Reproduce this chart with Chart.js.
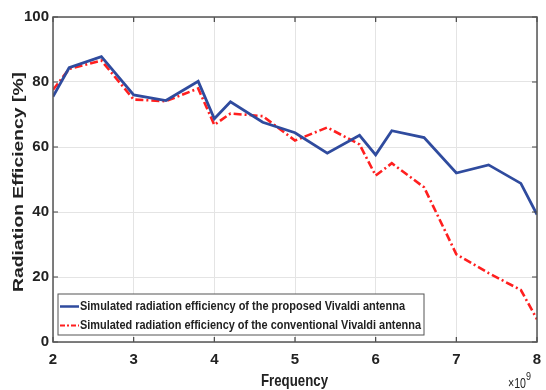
<!DOCTYPE html>
<html>
<head>
<meta charset="utf-8">
<script src="https://cdn.jsdelivr.net/npm/chart.js@4.4.0/dist/chart.umd.min.js"></script>
<style>
  html, body { margin: 0; padding: 0; background: #fff; }
</style>
</head>
<body>
<canvas id="chart" width="546" height="390"></canvas>
<script>
// frequency in units of 1e9 Hz
const freq = [2.0, 2.2, 2.6, 3.0, 3.4, 3.8, 4.0, 4.2, 4.6, 5.0, 5.4, 5.8, 6.0, 6.2, 6.6, 7.0, 7.4, 7.8, 8.0];
const proposed = [75.5, 84.4, 87.8, 76.0, 74.3, 80.2, 68.7, 73.9, 67.6, 64.4, 58.1, 63.6, 57.6, 65.0, 62.9, 52.0, 54.5, 48.8, 39.2];
const conventional = [77.6, 84.0, 86.6, 74.6, 74.1, 78.0, 66.8, 70.3, 69.5, 62.0, 66.0, 60.8, 51.2, 55.0, 47.6, 27.0, 21.2, 16.0, 7.0];
const legendLabels = [
  "Simulated radiation efficiency of the proposed Vivaldi antenna",
  "Simulated radiation efficiency of the conventional Vivaldi antenna"
];
const xTicks = [2, 3, 4, 5, 6, 7, 8];
const yTicks = [0, 20, 40, 60, 80, 100];

const blue = "#2f4b9e";
const red = "#ff1f1f";
const redDash = [8, 3, 2, 3];

function toPoints(ys) {
  return freq.map((f, i) => ({ x: f, y: ys[i] }));
}

// draw text squeezed/stretched to a given width
function fitText(ctx, text, x, y, width) {
  const w = ctx.measureText(text).width;
  ctx.save();
  ctx.translate(x, y);
  ctx.scale(width / w, 1);
  ctx.fillText(text, 0, 0);
  ctx.restore();
}

// box, inner tick marks, titles and the in-plot legend
const decorations = {
  id: "decorations",
  afterDraw(chart) {
    const { ctx, chartArea: a, scales } = chart;
    ctx.save();

    // inward tick marks on all sides
    ctx.strokeStyle = "#444";
    ctx.lineWidth = 1.2;
    xTicks.forEach(v => {
      const px = scales.x.getPixelForValue(v);
      ctx.beginPath();
      ctx.moveTo(px, a.top); ctx.lineTo(px, a.top + 5);
      ctx.moveTo(px, a.bottom); ctx.lineTo(px, a.bottom - 5);
      ctx.stroke();
    });
    yTicks.forEach(v => {
      const py = scales.y.getPixelForValue(v);
      ctx.beginPath();
      ctx.moveTo(a.left, py); ctx.lineTo(a.left + 5, py);
      ctx.moveTo(a.right, py); ctx.lineTo(a.right - 5, py);
      ctx.stroke();
    });

    // box
    ctx.strokeStyle = "#555";
    ctx.lineWidth = 1.5;
    ctx.strokeRect(a.left, a.top, a.right - a.left, a.bottom - a.top);

    // axis titles
    ctx.fillStyle = "#222";
    ctx.font = "bold 17px 'Liberation Sans', Arial, sans-serif";
    ctx.textAlign = "left";
    ctx.textBaseline = "middle";
    fitText(ctx, "Frequency", 261, 381, 67);
    ctx.font = "bold 15px 'Liberation Sans', Arial, sans-serif";
    ctx.save();
    ctx.translate(19, 292);
    ctx.rotate(-Math.PI / 2);
    fitText(ctx, "Radiation Efficiency [%]", 0, 0, 220);
    ctx.restore();

    // x10^9 exponent
    ctx.font = "15px 'Liberation Sans', Arial, sans-serif";
    fitText(ctx, "\u00d710", 508, 384, 18);
    ctx.font = "11px 'Liberation Sans', Arial, sans-serif";
    fitText(ctx, "9", 526, 377, 5);

    // legend
    const lx = 58, ly = 294, lw = 366, lh = 41;
    ctx.fillStyle = "#fff";
    ctx.fillRect(lx, ly, lw, lh);
    ctx.strokeStyle = "#555";
    ctx.lineWidth = 1;
    ctx.strokeRect(lx, ly, lw, lh);
    const rows = [
      { y: 306.5, color: blue, dash: [], width: 2.5 },
      { y: 325.5, color: red, dash: [5, 2, 2, 2], width: 2.2 }
    ];
    rows.forEach((r, i) => {
      ctx.strokeStyle = r.color;
      ctx.lineWidth = r.width;
      ctx.setLineDash(r.dash);
      ctx.beginPath();
      ctx.moveTo(60, r.y); ctx.lineTo(79, r.y);
      ctx.stroke();
      ctx.setLineDash([]);
      ctx.fillStyle = "#222";
      ctx.font = "bold 13px 'Liberation Sans Narrow', 'Arial Narrow', sans-serif";
      fitText(ctx, legendLabels[i], 80, r.y, i === 0 ? 325 : 341);
    });

    ctx.restore();
  }
};

const ctx = document.getElementById("chart").getContext("2d");
new Chart(ctx, {
  type: "line",
  data: {
    datasets: [
      {
        label: legendLabels[0],
        data: toPoints(proposed),
        borderColor: blue,
        borderWidth: 2.8,
        pointRadius: 0,
        tension: 0,
        fill: false
      },
      {
        label: legendLabels[1],
        data: toPoints(conventional),
        borderColor: red,
        borderWidth: 2.6,
        borderDash: redDash,
        pointRadius: 0,
        tension: 0,
        fill: false
      }
    ]
  },
  options: {
    responsive: false,
    animation: false,
    layout: { padding: { top: 17, right: 9, left: 0, bottom: 0 } },
    plugins: {
      legend: { display: false },
      tooltip: { enabled: false }
    },
    scales: {
      x: {
        type: "linear",
        min: 2,
        max: 8,
        afterBuildTicks: s => { s.ticks = xTicks.map(v => ({ value: v })); },
        afterFit: s => { s.height = 48; s.paddingLeft = 0; s.paddingRight = 0; },
        grid: { color: "#e4e4e4", drawTicks: false },
        border: { display: false },
        ticks: {
          padding: 9,
          color: "#222",
          font: { family: "'Liberation Sans', Arial, sans-serif", size: 15, weight: "bold" }
        }
      },
      y: {
        min: 0,
        max: 100,
        afterBuildTicks: s => { s.ticks = yTicks.map(v => ({ value: v })); },
        afterFit: s => { s.width = 53; s.paddingTop = 0; s.paddingBottom = 0; },
        grid: { color: "#e4e4e4", drawTicks: false },
        border: { display: false },
        ticks: {
          padding: 4,
          color: "#222",
          font: { family: "'Liberation Sans', Arial, sans-serif", size: 15, weight: "bold" }
        }
      }
    }
  },
  plugins: [decorations]
});
</script>
</body>
</html>
